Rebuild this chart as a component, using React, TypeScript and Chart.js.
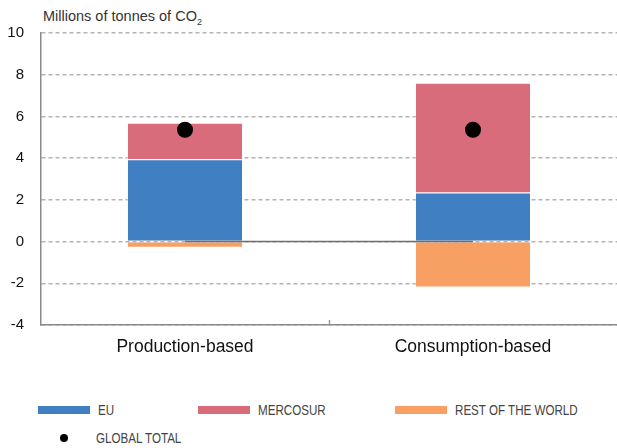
import React, { useEffect, useRef } from "react";
import { Chart, registerables } from "chart.js";

Chart.register(...registerables);

const categories = ["Production-based", "Consumption-based"];
const euValues = [3.95, 2.35];
const mercosurValues = [1.75, 5.27];
const restOfWorldValues = [-0.3, -2.2];
const globalTotalValues = [5.36, 5.36];
const zeroLineValues = [0, 0];
const yMin = -4;
const yMax = 10;
const yStep = 2;

const COLORS = {
  eu: "#3f7fc2",
  mercosur: "#d96c7b",
  row: "#f89f63",
  total: "#000000",
};

const FONT = "'Liberation Sans', Arial, Helvetica, sans-serif";

const midTickPlugin = {
  id: "midTicks",
  afterDraw(chart: any) {
    const x = chart.scales.x;
    const ctx = chart.ctx;
    const bottom = chart.chartArea.bottom;
    ctx.save();
    ctx.strokeStyle = "#9a9a9a";
    ctx.lineWidth = 1.5;
    for (let i = 0; i < categories.length - 1; i++) {
      const px = (x.getPixelForTick(i) + x.getPixelForTick(i + 1)) / 2;
      ctx.beginPath();
      ctx.moveTo(Math.round(px) + 0.5, bottom - 5);
      ctx.lineTo(Math.round(px) + 0.5, bottom);
      ctx.stroke();
    }
    ctx.restore();
  },
};

export default function App() {
  const ref = useRef<HTMLCanvasElement | null>(null);

  useEffect(() => {
    if (!ref.current) return;
    const chart = new Chart(ref.current, {
      type: "bar",
      data: {
        labels: categories,
        datasets: [
          {
            type: "line",
            label: "GLOBAL TOTAL",
            data: globalTotalValues,
            showLine: false,
            pointRadius: 8,
            pointBackgroundColor: COLORS.total,
            pointBorderColor: COLORS.total,
            pointBorderWidth: 0,
            stack: "dots",
            order: 0,
          } as any,
          {
            type: "line",
            label: "zero",
            data: zeroLineValues,
            borderColor: "#6e6e6e",
            borderWidth: 1.5,
            pointRadius: 0,
            stack: "zero",
            order: 1,
          } as any,
          {
            label: "EU",
            data: euValues,
            backgroundColor: COLORS.eu,
            borderColor: "rgba(255,255,255,0.35)",
            borderWidth: 1,
            stack: "bars",
            order: 2,
          },
          {
            label: "MERCOSUR",
            data: mercosurValues,
            backgroundColor: COLORS.mercosur,
            borderColor: "rgba(255,255,255,0.35)",
            borderWidth: 1,
            stack: "bars",
            order: 2,
          },
          {
            label: "REST OF THE WORLD",
            data: restOfWorldValues,
            backgroundColor: COLORS.row,
            borderColor: "rgba(255,255,255,0.35)",
            borderWidth: 1,
            stack: "bars",
            order: 2,
          },
        ],
      },
      options: {
        animation: false,
        responsive: false,
        devicePixelRatio: 1,
        layout: { autoPadding: false, padding: { top: 33, right: 0, bottom: 0, left: 0 } },
        datasets: {
          bar: { barPercentage: 0.403, categoryPercentage: 1 },
        },
        plugins: {
          legend: { display: false },
          tooltip: { enabled: false },
          title: { display: false },
        },
        scales: {
          x: {
            stacked: true,
            grid: { display: false, drawTicks: false },
            border: { display: true, color: "#8a8a8a", width: 1.5 },
            ticks: {
              padding: 12,
              color: "#111",
              font: { family: FONT, size: 17.5 },
            },
            afterFit(scale: any) {
              scale.height = 35;
            },
          },
          y: {
            stacked: true,
            min: yMin,
            max: yMax,
            ticks: {
              stepSize: yStep,
              padding: 17,
              color: "#111",
              font: { family: FONT, size: 15 },
            },
            grid: {
              color: "#b3b3b3",
              lineWidth: 1.5,
              drawTicks: false,
            },
            border: { display: true, color: "#8a8a8a", width: 1.5, dash: [4, 3] },
            afterFit(scale: any) {
              scale.width = 41;
            },
          },
        },
      },
      plugins: [midTickPlugin],
    } as any);
    return () => chart.destroy();
  }, []);

  const legendText: React.CSSProperties = {
    position: "absolute",
    fontFamily: FONT,
    fontSize: 14.5,
    color: "#444",
    transform: "scaleX(0.8)",
    transformOrigin: "left center",
    whiteSpace: "nowrap",
    lineHeight: "18px",
  };
  const swatch = (left: number, color: string): React.CSSProperties => ({
    position: "absolute",
    left,
    top: 406,
    width: 52,
    height: 8,
    background: color,
  });

  return (
    <div
      style={{
        position: "fixed",
        left: 0,
        top: 0,
        width: 617,
        height: 448,
        background: "#fff",
        overflow: "hidden",
      }}
    >
      <div
        style={{
          position: "absolute",
          left: 43,
          top: 7,
          fontFamily: FONT,
          fontSize: 14.5,
          color: "#333",
          whiteSpace: "nowrap",
          lineHeight: "18px",
        }}
      >
        Millions of tonnes of CO
        <span style={{ fontSize: 9, position: "relative", top: 4 }}>2</span>
      </div>
      <canvas
        ref={ref}
        width={617}
        height={360}
        style={{ position: "absolute", left: 0, top: 0, width: 617, height: 360 }}
      />
      <div style={swatch(38, COLORS.eu)} />
      <span style={{ ...legendText, left: 98, top: 401 }}>EU</span>
      <div style={swatch(198, COLORS.mercosur)} />
      <span style={{ ...legendText, left: 258, top: 401 }}>MERCOSUR</span>
      <div style={swatch(395, COLORS.row)} />
      <span style={{ ...legendText, left: 455, top: 401 }}>REST OF THE WORLD</span>
      <div
        style={{
          position: "absolute",
          left: 60,
          top: 434,
          width: 8,
          height: 8,
          borderRadius: "50%",
          background: "#000",
        }}
      />
      <span style={{ ...legendText, left: 96, top: 429 }}>GLOBAL TOTAL</span>
    </div>
  );
}
